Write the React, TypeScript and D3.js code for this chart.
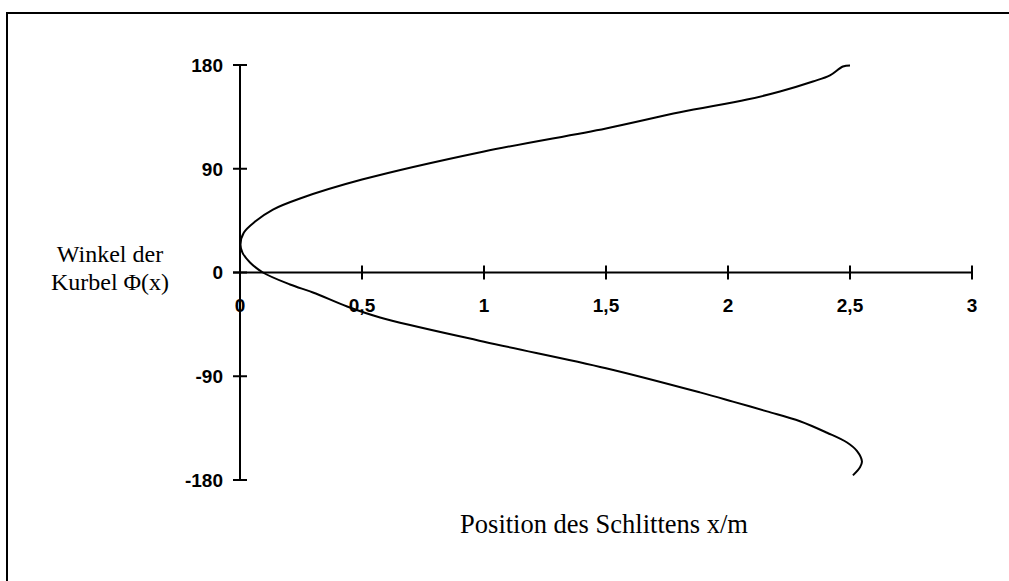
import React from "react";
import * as d3 from "d3";

// Slider position x (m) against crank angle Φ (degrees)
const positionX = [
  2.512, 2.541, 2.549, 2.529, 2.488, 2.406, 2.295, 2.16, 2.02, 1.885, 1.5, 1.0,
  0.574, 0.439, 0.299, 0.205, 0.094, 0.041, 0.01, 0.002, 0.016, 0.062, 0.135,
  0.246, 0.5, 1.0, 1.5, 1.803, 2.078, 2.213, 2.348, 2.418, 2.471, 2.5,
];
const crankAngle = [
  -176, -169, -164, -155, -147.5, -139, -129, -120.5, -112, -104, -83, -60, -39,
  -29.5, -17.3, -10.4, 0, 8.7, 17.3, 24.3, 34.7, 44.2, 54.6, 64.2, 80.6, 105,
  125, 139, 150, 157, 165.7, 171, 178.7, 179.6,
];

const xTicks = [0, 0.5, 1, 1.5, 2, 2.5, 3];
const xTickLabels = ["0", "0,5", "1", "1,5", "2", "2,5", "3"];
const yTicks = [180, 90, 0, -90, -180];

const yTitleLines = ["Winkel der", "Kurbel Φ(x)"];
const xTitle = "Position des Schlittens x/m";

const W = 1009;
const H = 581;

export default function App() {
  const x = d3.scaleLinear().domain([0, 3]).range([240, 972]);
  const y = d3.scaleLinear().domain([-180, 180]).range([480, 65]);

  const pts: [number, number][] = positionX.map((v, i) => [v, crankAngle[i]]);
  const line = d3
    .line<[number, number]>()
    .x((d) => x(d[0]))
    .y((d) => y(d[1]))
    .curve(d3.curveCatmullRom.alpha(0.5));

  const x0 = x(0);
  const y0 = y(0);
  const tickLen = 7;

  return (
    <svg
      width={W}
      height={H}
      style={{ position: "absolute", left: 0, top: 0, background: "#fff" }}
    >
      {/* chart frame */}
      <rect x={7} y={13} width={W + 20} height={H + 20} fill="none" stroke="#000" strokeWidth={2} />

      {/* y axis */}
      <line x1={x0} x2={x0} y1={y(180)} y2={y(-180)} stroke="#000" strokeWidth={2} />
      {yTicks.map((t) => (
        <g key={"yt" + t}>
          <line x1={x0 - tickLen} x2={x0 + tickLen} y1={y(t)} y2={y(t)} stroke="#000" strokeWidth={2} />
          <text
            x={223}
            y={y(t)}
            dy="0.36em"
            textAnchor="end"
            fontFamily="'Liberation Sans', Arial, sans-serif"
            fontWeight="bold"
            fontSize={19}
          >
            {t}
          </text>
        </g>
      ))}

      {/* x axis */}
      <line x1={x0 - tickLen} x2={x(3)} y1={y0} y2={y0} stroke="#000" strokeWidth={2} />
      {xTicks.map((t, i) => (
        <g key={"xt" + t}>
          <line x1={x(t)} x2={x(t)} y1={y0 - tickLen} y2={y0 + tickLen} stroke="#000" strokeWidth={2} />
          <text
            x={x(t)}
            y={312}
            textAnchor="middle"
            fontFamily="'Liberation Sans', Arial, sans-serif"
            fontWeight="bold"
            fontSize={19}
          >
            {xTickLabels[i]}
          </text>
        </g>
      ))}

      {/* curve */}
      <path d={line(pts) || ""} fill="none" stroke="#000" strokeWidth={2} />

      {/* axis titles */}
      <text
        textAnchor="middle"
        fontFamily="'Liberation Serif', 'Times New Roman', serif"
        fontSize={24}
      >
        <tspan x={110} y={262}>{yTitleLines[0]}</tspan>
        <tspan x={110} y={290}>{yTitleLines[1]}</tspan>
      </text>
      <text
        x={604}
        y={533}
        textAnchor="middle"
        fontFamily="'Liberation Serif', 'Times New Roman', serif"
        fontSize={26.5}
      >
        {xTitle}
      </text>
    </svg>
  );
}
